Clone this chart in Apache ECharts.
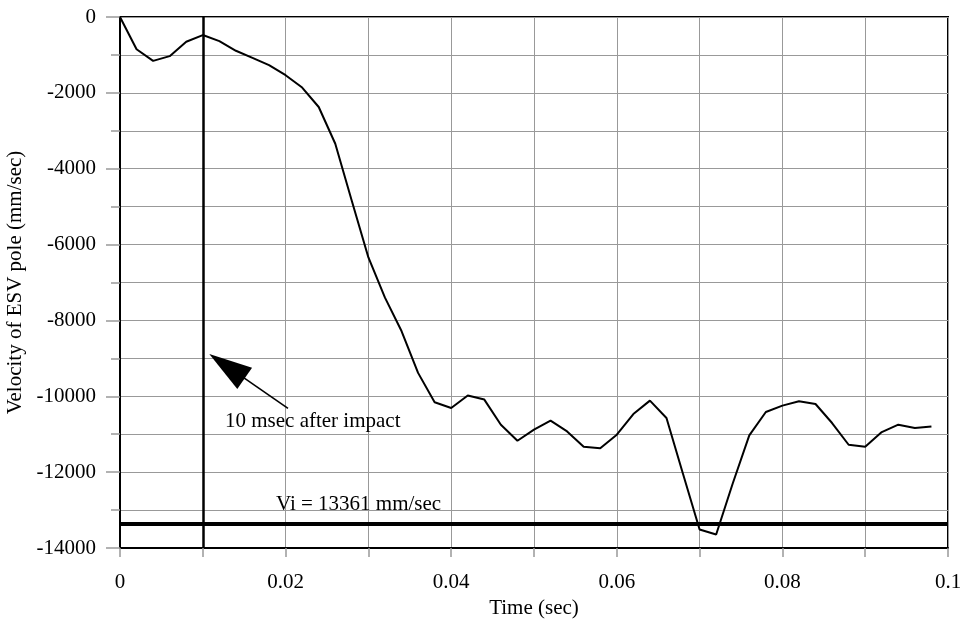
<!DOCTYPE html>
<html>
<head>
<meta charset="utf-8">
<script src="https://cdn.jsdelivr.net/npm/echarts@6/dist/echarts.min.js"></script>
<style>
html,body{margin:0;padding:0;background:#fff;}
#chart{width:964px;height:623px;}
</style>
</head>
<body>
<div id="chart"></div>
<script>
// Time (sec)
var times = [0,0.002,0.004,0.006,0.008,0.010,0.012,0.014,0.016,0.018,
  0.020,0.022,0.024,0.026,0.028,0.030,0.032,0.034,0.036,0.038,
  0.040,0.042,0.044,0.046,0.048,0.050,0.052,0.054,0.056,0.058,
  0.060,0.062,0.064,0.066,0.068,0.070,0.072,0.074,0.076,0.078,
  0.080,0.082,0.084,0.086,0.088,0.090,0.092,0.094,0.096,0.098];
// Velocity of ESV pole (mm/sec)
var velocity = [0,-850,-1156,-1032,-653,-476,-635,-891,-1077,-1270,
  -1534,-1860,-2373,-3342,-4850,-6340,-7399,-8280,-9383,-10159,
  -10309,-9981,-10087,-10749,-11172,-10881,-10643,-10926,-11331,-11368,
  -11013,-10468,-10114,-10574,-12050,-13511,-13643,-12300,-11032,-10415,
  -10246,-10132,-10203,-10705,-11278,-11331,-10944,-10749,-10838,-10794];

var impactTime = 0.01;          // 10 msec after impact marker
var viValue = -13361;           // Vi = 13361 mm/sec
var viLabel = 'Vi = 13361 mm/sec';
var viLabelAt = [0.01884, -12857];
var impactLabel = '10 msec after impact';
var impactLabelAt = [0.01268, -10661];
var arrowFrom = [0.02029, -10317];
var arrowTo = [0.01292, -9206];

var xTickLabels = {'0':'0','0.02':'0.02','0.04':'0.04','0.06':'0.06','0.08':'0.08','0.1':'0.1'};
var yTickLabels = ['0','-2000','-4000','-6000','-8000','-10000','-12000','-14000'];
var xTitle = 'Time (sec)';
var yTitle = 'Velocity of ESV pole (mm/sec)';

var font = 'Liberation Serif';
var fs = 21;
var gridColor = '#999';

var chart = echarts.init(document.getElementById('chart'));
chart.setOption({
  animation: false,
  backgroundColor: '#fff',
  grid: {left: 120, right: 16, top: 17, bottom: 75, containLabel: false, outerBoundsMode: 'none',
    show: true, borderColor: '#000', borderWidth: 2, backgroundColor: 'transparent'},
  xAxis: {
    type: 'value', min: 0, max: 0.1, interval: 0.02,
    name: xTitle, nameLocation: 'middle', nameGap: 40,
    nameTextStyle: {fontFamily: font, fontSize: fs, color: '#000'},
    axisLine: {show: true, onZero: false, lineStyle: {color: '#000', width: 2}},
    axisTick: {show: true, length: 9, lineStyle: {color: gridColor, width: 1.5}},
    minorTick: {show: true, splitNumber: 2, length: 9, lineStyle: {color: gridColor, width: 1.5}},
    axisLabel: {margin: 24, fontFamily: font, fontSize: fs, color: '#000',
      formatter: function (v) { var k = String(+v.toFixed(2)); return xTickLabels[k] !== undefined ? xTickLabels[k] : k; }},
    splitLine: {show: true, lineStyle: {color: gridColor, width: 1}},
    minorSplitLine: {show: true, lineStyle: {color: gridColor, width: 1}}
  },
  yAxis: {
    type: 'value', min: -14000, max: 0, interval: 2000,
    name: yTitle, nameLocation: 'middle', nameGap: 84,
    nameTextStyle: {fontFamily: font, fontSize: fs, color: '#000'},
    axisLine: {show: true, onZero: false, lineStyle: {color: '#000', width: 2}},
    axisTick: {show: true, length: 14, lineStyle: {color: gridColor, width: 1.5}},
    minorTick: {show: true, splitNumber: 2, length: 9, lineStyle: {color: gridColor, width: 1.5}},
    axisLabel: {margin: 24, fontFamily: font, fontSize: fs, color: '#000',
      formatter: function (v) { var i = Math.round(-v / 2000); return yTickLabels[i] !== undefined ? yTickLabels[i] : String(Math.round(v)); }},
    splitLine: {show: true, lineStyle: {color: gridColor, width: 1}},
    minorSplitLine: {show: true, lineStyle: {color: gridColor, width: 1}}
  },
  series: [{
    type: 'line',
    data: times.map(function (t, i) { return [t, velocity[i]]; }),
    showSymbol: false,
    symbol: 'none',
    lineStyle: {color: '#000', width: 2},
    z: 5,
    markLine: {
      silent: true,
      animation: false,
      symbol: 'none',
      label: {show: false},
      data: [
        {xAxis: impactTime, lineStyle: {color: '#000', width: 2.5, type: 'solid'}},
        {yAxis: viValue, lineStyle: {color: '#000', width: 4, type: 'solid'}},
        [
          {coord: arrowFrom, symbol: 'none', lineStyle: {color: '#000', width: 1.6, type: 'solid'}},
          {coord: arrowTo, symbol: 'triangle', symbolSize: [26, 43]}
        ]
      ]
    },
    markPoint: {
      silent: true,
      animation: false,
      symbol: 'circle',
      symbolSize: 0,
      label: {show: true, position: 'right', distance: 0, fontFamily: font, fontSize: fs, color: '#000',
        formatter: function (p) { return p.name; }},
      data: [
        {name: impactLabel, coord: impactLabelAt},
        {name: viLabel, coord: viLabelAt}
      ]
    }
  }]
});
</script>
</body>
</html>
